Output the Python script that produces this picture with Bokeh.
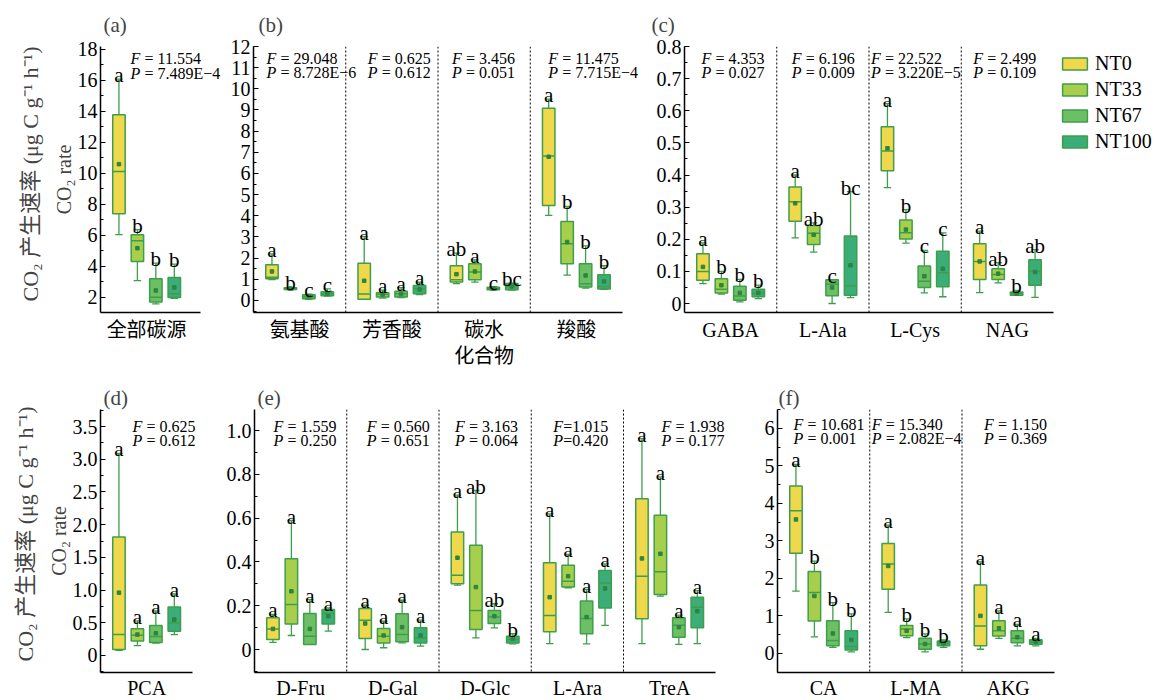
from bokeh.plotting import figure
from bokeh.layouts import row, column
from bokeh.models import (Range1d, FixedTicker, SingleIntervalTicker, CustomJSTickFormatter,
                          Span, Title, Legend, LegendItem, ColumnDataSource, Label)
from bokeh.core.properties import value
from bokeh.embed import file_html
from bokeh.resources import INLINE

treatments = ["NT0", "NT33", "NT67", "NT100"]
fill_colors = ["#EFD84B", "#A8CF4B", "#6DBF63", "#3AAD79"]
edge_color = "#3E9E4C"
mean_color = "#2C8540"

# ---------------- (a) all carbon sources ----------------
a_groups = ["全部碳源"]
a_high = [[16.08, 6.37, 4.21, 4.15]]
a_q3 = [[13.79, 6.05, 3.20, 3.29]]
a_med = [[10.13, 5.66, 2.02, 2.24]]
a_q1 = [[7.40, 4.32, 1.70, 2.00]]
a_low = [[6.05, 3.08, 1.59, 1.95]]
a_mean = [[10.60, 5.18, 2.45, 2.65]]
a_letters = [["a", "b", "b", "b"]]
a_F = ["F = 11.554"]
a_P = ["P = 7.489E−4"]

# ---------------- (b) compound classes ----------------
b_groups = ["氨基酸", "芳香酸", "碳水\n化合物", "羧酸"]
b_high = [[2.20, 0.62, 0.30, 0.55], [3.02, 0.49, 0.61, 0.86], [2.24, 1.92, 0.65, 0.82], [9.51, 4.44, 2.58, 1.64]]
b_q3 = [[1.69, 0.60, 0.27, 0.41], [1.76, 0.36, 0.43, 0.71], [1.64, 1.73, 0.62, 0.80], [9.08, 3.73, 1.73, 1.21]]
b_med = [[1.09, 0.56, 0.18, 0.32], [0.30, 0.28, 0.32, 0.55], [0.98, 1.34, 0.56, 0.66], [6.83, 2.68, 0.79, 0.66]]
b_q1 = [[1.02, 0.52, 0.08, 0.22], [0.06, 0.16, 0.16, 0.32], [0.87, 0.98, 0.51, 0.50], [4.49, 1.73, 0.63, 0.54]]
b_low = [[0.98, 0.50, 0.05, 0.20], [0.05, 0.11, 0.14, 0.27], [0.79, 0.87, 0.49, 0.49], [4.02, 1.20, 0.58, 0.52]]
b_mean = [[1.37, 0.56, 0.20, 0.33], [0.93, 0.28, 0.30, 0.52], [1.24, 1.37, 0.56, 0.66], [6.79, 2.76, 1.18, 0.90]]
b_letters = [["a", "b", "c", "c"], ["a", "a", "a", "a"], ["ab", "a", "c", "bc"], ["a", "b", "b", "b"]]
b_F = ["F = 29.048", "F = 0.625", "F = 3.456", "F = 11.475"]
b_P = ["P = 8.728E−6", "P = 0.612", "P = 0.051", "P = 7.715E−4"]

# ---------------- (c) amino acids / amines ----------------
c_groups = ["GABA", "L-Ala", "L-Cys", "NAG"]
c_high = [[0.189, 0.100, 0.075, 0.057], [0.400, 0.251, 0.074, 0.348], [0.622, 0.292, 0.165, 0.220], [0.225, 0.127, 0.041, 0.168]]
c_q3 = [[0.155, 0.077, 0.054, 0.044], [0.363, 0.243, 0.074, 0.210], [0.550, 0.260, 0.117, 0.163], [0.186, 0.108, 0.036, 0.136]]
c_med = [[0.100, 0.044, 0.023, 0.031], [0.317, 0.219, 0.060, 0.055], [0.475, 0.220, 0.069, 0.096], [0.131, 0.090, 0.031, 0.100]]
c_q1 = [[0.072, 0.033, 0.010, 0.021], [0.256, 0.184, 0.024, 0.026], [0.413, 0.201, 0.050, 0.052], [0.075, 0.075, 0.026, 0.057]]
c_low = [[0.062, 0.029, 0.005, 0.015], [0.204, 0.160, 0.000, 0.018], [0.361, 0.188, 0.033, 0.021], [0.034, 0.064, 0.026, 0.019]]
c_mean = [[0.114, 0.057, 0.033, 0.033], [0.312, 0.214, 0.050, 0.119], [0.483, 0.230, 0.085, 0.108], [0.131, 0.093, 0.031, 0.098]]
c_letters = [["a", "b", "b", "b"], ["a", "ab", "c", "bc"], ["a", "b", "c", "c"], ["a", "ab", "b", "ab"]]
c_F = ["F = 4.353", "F = 6.196", "F = 22.522", "F = 2.499"]
c_P = ["P = 0.027", "P = 0.009", "P = 3.220E−5", "P = 0.109"]

# ---------------- (d) aromatic ----------------
d_groups = ["PCA"]
d_high = [[3.09, 0.53, 0.68, 0.94]]
d_q3 = [[1.81, 0.41, 0.46, 0.74]]
d_med = [[0.32, 0.31, 0.29, 0.50]]
d_q1 = [[0.09, 0.22, 0.20, 0.37]]
d_low = [[0.08, 0.15, 0.19, 0.32]]
d_mean = [[0.96, 0.32, 0.34, 0.55]]
d_letters = [["a", "a", "a", "a"]]
d_F = ["F = 0.625"]
d_P = ["P = 0.612"]

# ---------------- (e) carbohydrates ----------------
e_groups = ["D-Fru", "D-Gal", "D-Glc", "L-Ara", "TreA"]
e_high = [[0.160, 0.589, 0.228, 0.190], [0.202, 0.129, 0.225, 0.134], [0.705, 0.726, 0.209, 0.072], [0.619, 0.434, 0.274, 0.391], [0.963, 0.788, 0.157, 0.269]]
e_q3 = [[0.145, 0.414, 0.164, 0.183], [0.187, 0.096, 0.163, 0.099], [0.537, 0.476, 0.178, 0.061], [0.396, 0.385, 0.221, 0.361], [0.689, 0.613, 0.145, 0.239]]
e_med = [[0.094, 0.205, 0.061, 0.164], [0.134, 0.061, 0.068, 0.053], [0.339, 0.178, 0.148, 0.046], [0.155, 0.312, 0.142, 0.304], [0.335, 0.355, 0.111, 0.193]]
e_q1 = [[0.046, 0.117, 0.023, 0.117], [0.050, 0.030, 0.035, 0.030], [0.300, 0.091, 0.119, 0.030], [0.081, 0.285, 0.072, 0.190], [0.140, 0.251, 0.056, 0.099]]
e_low = [[0.033, 0.064, 0.023, 0.084], [0.000, 0.008, 0.030, 0.015], [0.294, 0.053, 0.099, 0.026], [0.027, 0.282, 0.026, 0.110], [0.027, 0.244, 0.023, 0.027]]
e_mean = [[0.094, 0.266, 0.094, 0.152], [0.119, 0.064, 0.102, 0.064], [0.419, 0.285, 0.152, 0.049], [0.239, 0.335, 0.148, 0.279], [0.416, 0.437, 0.102, 0.175]]
e_letters = [["a", "a", "a", "a"], ["a", "a", "a", "a"], ["a", "ab", "ab", "b"], ["a", "a", "a", "a"], ["a", "a", "a", "a"]]
e_F = ["F = 1.559", "F = 0.560", "F = 3.163", "F=1.015", "F = 1.938"]
e_P = ["P = 0.250", "P = 0.651", "P = 0.064", "P=0.420", "P = 0.177"]

# ---------------- (f) carboxylic acids ----------------
f_groups = ["CA", "L-MA", "AKG"]
f_high = [[5.04, 2.46, 1.35, 1.05], [3.42, 0.92, 0.52, 0.36], [2.44, 1.13, 0.77, 0.40]]
f_q3 = [[4.46, 2.18, 0.87, 0.60], [2.93, 0.74, 0.40, 0.33], [1.82, 0.87, 0.60, 0.36]]
f_med = [[3.80, 1.62, 0.34, 0.18], [2.38, 0.65, 0.25, 0.27], [0.73, 0.60, 0.40, 0.31]]
f_q1 = [[2.67, 0.86, 0.20, 0.09], [1.71, 0.47, 0.11, 0.20], [0.20, 0.46, 0.28, 0.24]]
f_low = [[1.66, 0.44, 0.16, 0.04], [1.09, 0.42, 0.04, 0.16], [0.11, 0.40, 0.20, 0.20]]
f_mean = [[3.57, 1.53, 0.53, 0.36], [2.33, 0.60, 0.25, 0.27], [1.00, 0.67, 0.43, 0.31]]
f_letters = [["a", "b", "b", "b"], ["a", "b", "b", "b"], ["a", "a", "a", "a"]]
f_F = ["F = 10.681", "F = 15.340", "F = 1.150"]
f_P = ["P = 0.001", "P = 2.082E−4", "P = 0.369"]

SERIF = "Liberation Serif, Noto Sans CJK SC, serif"
GROUP_PX = 92.25
OFFS = [-0.3, -0.1, 0.1, 0.3]
BOX_W = 0.135
CAP_W = 0.08
NBSP = "\u00a0"


def make_panel(tag, groups, low, q1, med, q3, high, mean, letters, F, P, *,
               yr, interval, fmt1, frame_w, frame_h, bl, br, bt, bb,
               title_off, title_standoff, fp_dx, fp_dy, cat_standoff,
               axis_end=None, cat_size="20px"):
    n = len(groups)
    xend = frame_w / GROUP_PX
    p = figure(frame_width=frame_w, frame_height=frame_h,
               x_range=Range1d(0, xend), y_range=Range1d(*yr),
               min_border_left=bl, min_border_right=br, min_border_top=bt, min_border_bottom=bb,
               output_backend="svg", toolbar_location=None,
               background_fill_color="white", border_fill_color="white")
    p.outline_line_color = None
    p.xgrid.visible = False
    p.ygrid.visible = False

    # title (panel tag)
    p.title.text = tag
    p.title.align = "left"
    p.title.offset = title_off
    p.title.standoff = title_standoff
    p.title.text_font = SERIF
    p.title.text_font_size = "21px"
    p.title.text_font_style = "normal"

    # separators between groups
    for k in range(1, n):
        p.add_layout(Span(location=k, dimension="height", line_color="black",
                          line_width=1, line_dash="2 2"))

    box_renderers = []
    for ti in range(4):
        xs = [g + 0.5 + OFFS[ti] for g in range(n)]
        src = ColumnDataSource(dict(
            x=xs,
            xl=[x - CAP_W / 2 for x in xs], xr=[x + CAP_W / 2 for x in xs],
            bl=[x - BOX_W / 2 for x in xs], br=[x + BOX_W / 2 for x in xs],
            low=[low[g][ti] for g in range(n)], q1=[q1[g][ti] for g in range(n)],
            med=[med[g][ti] for g in range(n)], q3=[q3[g][ti] for g in range(n)],
            high=[high[g][ti] for g in range(n)], mean=[mean[g][ti] for g in range(n)],
            letter=[letters[g][ti] for g in range(n)],
        ))
        p.segment(x0="x", y0="q3", x1="x", y1="high", source=src, line_color=edge_color, line_width=1.3)
        p.segment(x0="x", y0="q1", x1="x", y1="low", source=src, line_color=edge_color, line_width=1.3)
        p.segment(x0="xl", y0="high", x1="xr", y1="high", source=src, line_color=edge_color, line_width=1.3)
        p.segment(x0="xl", y0="low", x1="xr", y1="low", source=src, line_color=edge_color, line_width=1.3)
        r = p.vbar(x="x", width=BOX_W, bottom="q1", top="q3", source=src,
                   fill_color=fill_colors[ti], line_color=edge_color, line_width=1.5)
        box_renderers.append(r)
        p.segment(x0="bl", y0="med", x1="br", y1="med", source=src, line_color=edge_color, line_width=1.5)
        p.scatter(x="x", y="mean", source=src, marker="square", size=3.5,
                  fill_color=mean_color, line_color=mean_color)
        p.text(x="x", y="high", text="letter", source=src, text_align="center",
               text_baseline="alphabetic", y_offset=-4, text_font=value(SERIF),
               text_font_size="21px", text_color="black")

    # F / P annotations
    px_per_unit = frame_h / (yr[1] - yr[0])
    for g in range(n):
        for s, dy in ((F[g], fp_dy[0]), (P[g], fp_dy[1])):
            yv = yr[1] - dy / px_per_unit
            p.add_layout(Label(x=g, y=yv, x_offset=fp_dx[g], text=s[0],
                               text_font=SERIF, text_font_style="italic", text_font_size="16px",
                               text_baseline="alphabetic", text_color="black"))
            rest = s[1:].replace(" ", NBSP)
            p.add_layout(Label(x=g, y=yv, x_offset=fp_dx[g] + 10, text=rest,
                               text_font=SERIF, text_font_size="16px",
                               text_baseline="alphabetic", text_color="black"))

    # y axis
    ya = p.yaxis[0]
    ya.ticker = SingleIntervalTicker(interval=interval, num_minor_ticks=2)
    if fmt1:
        ya.formatter = CustomJSTickFormatter(code="return tick == 0 ? '0' : tick.toFixed(1);")
    ya.major_tick_in = 5
    ya.major_tick_out = 0
    ya.minor_tick_in = 3
    ya.minor_tick_out = 0
    ya.major_label_standoff = 3
    ya.axis_line_width = 1.5
    ya.axis_line_color = "black"
    ya.major_tick_line_color = "black"
    ya.minor_tick_line_color = "black"
    ya.major_label_text_font = SERIF
    ya.major_label_text_font_size = "20px"
    ya.major_label_text_color = "black"

    # x axis
    xa = p.xaxis[0]
    centers = [g + 0.5 for g in range(n)]
    xa.ticker = FixedTicker(ticks=centers, minor_ticks=[])
    xa.major_label_overrides = {c: groups[g] for g, c in enumerate(centers)}
    xa.bounds = (0, axis_end if axis_end is not None else n)
    xa.major_tick_in = 0
    xa.major_tick_out = 0
    xa.minor_tick_in = 0
    xa.minor_tick_out = 0
    xa.major_label_standoff = cat_standoff
    xa.axis_line_width = 1.5
    xa.axis_line_color = "black"
    xa.major_label_text_font = SERIF
    xa.major_label_text_font_size = cat_size
    xa.major_label_text_color = "black"
    return p, box_renderers


def add_ylabel(p):
    t2 = Title(text="CO₂ rate", align="center", text_font=SERIF, text_font_size="20px",
               text_font_style="normal", standoff=0)
    t1 = Title(text="CO₂ 产生速率 (μg C g⁻¹ h⁻¹)", align="left", offset=11, text_font=SERIF,
               text_font_size="22px", text_font_style="normal", standoff=16)
    p.add_layout(t2, "left")
    p.add_layout(t1, "left")


H1 = 266
H2 = 263
pa, _ = make_panel("(a)", a_groups, a_low, a_q1, a_med, a_q3, a_high, a_mean, a_letters, a_F, a_P,
                   yr=(1.03, 18.19), interval=2, fmt1=False, frame_w=124, frame_h=H1,
                   bl=100, br=0, bt=45, bb=61, title_off=3, title_standoff=20,
                   fp_dx=[30], fp_dy=(12, 27), cat_standoff=6, axis_end=100 / GROUP_PX)
add_ylabel(pa)
pb, _ = make_panel("(b)", b_groups, b_low, b_q1, b_med, b_q3, b_high, b_mean, b_letters, b_F, b_P,
                   yr=(-0.57, 12.0), interval=1, fmt1=False, frame_w=387, frame_h=H1,
                   bl=29, br=0, bt=45, bb=61, title_off=5, title_standoff=20,
                   fp_dx=[13, 22, 14, 18], fp_dy=(12, 26), cat_standoff=6)
pc, boxes_c = make_panel("(c)", c_groups, c_low, c_q1, c_med, c_q3, c_high, c_mean, c_letters, c_F, c_P,
                         yr=(-0.028, 0.80), interval=0.1, fmt1=True, frame_w=369, frame_h=H1,
                         bl=44, br=108, bt=45, bb=61, title_off=-33, title_standoff=20,
                         fp_dx=[17, 15, 2, 12], fp_dy=(12, 26), cat_standoff=6)
legend = Legend(items=[LegendItem(label=t, renderers=[boxes_c[i]]) for i, t in enumerate(treatments)],
                location="top_left", glyph_width=31, glyph_height=15, label_height=15,
                spacing=3, padding=0, margin=6, label_standoff=5,
                border_line_color=None, background_fill_alpha=0,
                label_text_font=SERIF, label_text_font_size="20px", label_text_color="black")
pc.add_layout(legend, "right")

pd_, _ = make_panel("(d)", d_groups, d_low, d_q1, d_med, d_q3, d_high, d_mean, d_letters, d_F, d_P,
                    yr=(-0.26, 3.76), interval=0.5, fmt1=True, frame_w=100, frame_h=H2,
                    bl=100, br=15, bt=36, bb=27, title_off=3, title_standoff=0,
                    fp_dx=[32], fp_dy=(17, 31), cat_standoff=4)
add_ylabel(pd_)
pe, _ = make_panel("(e)", e_groups, e_low, e_q1, e_med, e_q3, e_high, e_mean, e_letters, e_F, e_P,
                   yr=(-0.105, 1.096), interval=0.2, fmt1=True, frame_w=481, frame_h=H2,
                   bl=39, br=0, bt=36, bb=27, title_off=3, title_standoff=0,
                   fp_dx=[19, 20, 16, 22, 38], fp_dy=(17, 31), cat_standoff=4)
pf, _ = make_panel("(f)", f_groups, f_low, f_q1, f_med, f_q3, f_high, f_mean, f_letters, f_F, f_P,
                   yr=(-0.51, 6.5), interval=1, fmt1=False, frame_w=277, frame_h=H2,
                   bl=42, br=107, bt=36, bb=27, title_off=1, title_standoff=0,
                   fp_dx=[16, 2, 22], fp_dy=(15, 29), cat_standoff=4)

layout = column(row(pa, pb, pc), row(pd_, pe, pf))
open("out.html", "w").write(file_html(layout, INLINE))
